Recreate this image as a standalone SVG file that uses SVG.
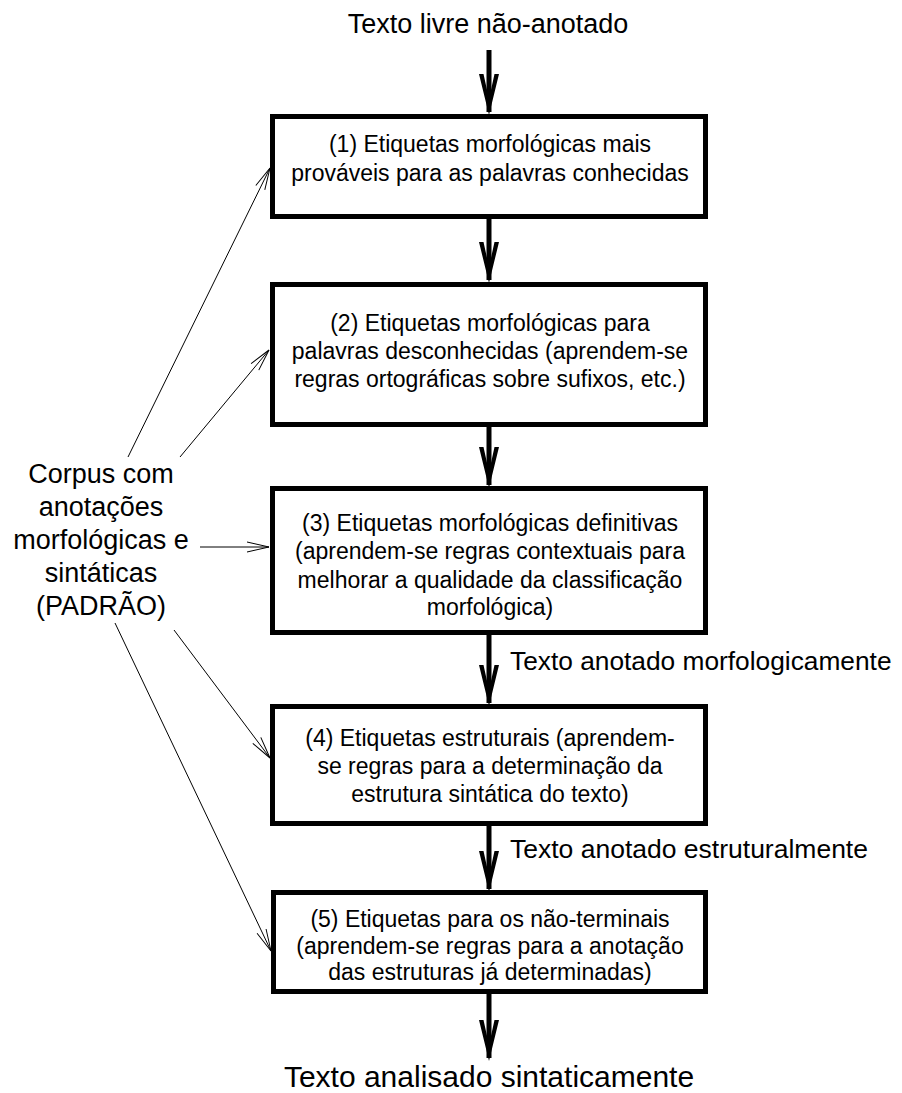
<svg xmlns="http://www.w3.org/2000/svg" xmlns:xlink="http://www.w3.org/1999/xlink" width="902" height="1093" viewBox="0 0 902 1093">
  <style>
    .box { fill: #fff; stroke: #000; stroke-width: 5; }
    .t { font-family: "Liberation Sans", Arial, sans-serif; fill: #000; }
    .bt { font-size: 23px; text-anchor: middle; }
    .big { font-size: 27px; }
    .mid { text-anchor: middle; }
    .shaft { stroke: #000; stroke-width: 5; fill: none; }
    .thin { stroke: #000; stroke-width: 1; fill: none; marker-end: url(#open); }
  </style>
  <defs>
    <!-- thick open V head, tip at origin pointing down -->
    <polygon id="head" points="-10,-41 -5.5,-41 0,-16 5.5,-41 10,-41 0,0" fill="#000"/>
    <marker id="open" markerUnits="userSpaceOnUse" orient="auto" refX="0" refY="0" markerWidth="30" markerHeight="14" viewBox="-24 -7 26 14" overflow="visible">
      <path d="M-22,-5 L0,0 L-22,5" fill="none" stroke="#000" stroke-width="1"/>
    </marker>
  </defs>

  <rect width="902" height="1093" fill="#fff"/>

  <!-- main flow -->
  <g id="connectors">
    <line class="shaft" x1="489" y1="50" x2="489" y2="112"/>
    <use xlink:href="#head" x="489" y="115"/>
    <line class="shaft" x1="489" y1="219" x2="489" y2="280"/>
    <use xlink:href="#head" x="489" y="283"/>
    <line class="shaft" x1="489" y1="426" x2="489" y2="485"/>
    <use xlink:href="#head" x="489" y="488"/>
    <line class="shaft" x1="489" y1="635" x2="489" y2="703"/>
    <use xlink:href="#head" x="489" y="706"/>
    <line class="shaft" x1="489" y1="826" x2="489" y2="889"/>
    <use xlink:href="#head" x="489" y="892"/>
    <line class="shaft" x1="489" y1="994" x2="489" y2="1058"/>
    <use xlink:href="#head" x="489" y="1061"/>

    <!-- corpus feeds each stage -->
    <line class="thin" x1="128" y1="457" x2="270" y2="168"/>
    <line class="thin" x1="180" y1="457" x2="269" y2="350"/>
    <line class="thin" x1="200" y1="547" x2="269" y2="547"/>
    <line class="thin" x1="174" y1="630" x2="270" y2="758"/>
    <line class="thin" x1="115" y1="623" x2="271" y2="951"/>
  </g>

  <g id="input">
    <text class="t big mid" x="488" y="33">Texto livre não-anotado</text>
  </g>

  <g id="stage1">
    <rect class="box" x="272.5" y="116.5" width="433" height="100"/>
    <text class="t bt" x="490" y="152">(1) Etiquetas morfológicas mais</text>
    <text class="t bt" x="490" y="181">prováveis para as palavras conhecidas</text>
  </g>

  <g id="stage2">
    <rect class="box" x="272.5" y="284.5" width="433" height="140"/>
    <text class="t bt" x="490" y="331">(2) Etiquetas morfológicas para</text>
    <text class="t bt" x="490" y="359">palavras desconhecidas (aprendem-se</text>
    <text class="t bt" x="490" y="387">regras ortográficas sobre sufixos, etc.)</text>
  </g>

  <g id="stage3">
    <rect class="box" x="272.5" y="488.5" width="433" height="144"/>
    <text class="t bt" x="490" y="531">(3) Etiquetas morfológicas definitivas</text>
    <text class="t bt" x="490" y="559">(aprendem-se regras contextuais para</text>
    <text class="t bt" x="490" y="588">melhorar a qualidade da classificação</text>
    <text class="t bt" x="490" y="615">morfológica)</text>
  </g>

  <g id="label-morf">
    <text class="t" font-size="26.3" x="510" y="670">Texto anotado morfologicamente</text>
  </g>

  <g id="stage4">
    <rect class="box" x="272.5" y="706.5" width="433" height="117"/>
    <text class="t bt" x="490" y="746">(4) Etiquetas estruturais (aprendem-</text>
    <text class="t bt" x="490" y="774">se regras para a determinação da</text>
    <text class="t bt" x="490" y="802">estrutura sintática do texto)</text>
  </g>

  <g id="label-estr">
    <text class="t" font-size="26.5" x="510" y="858">Texto anotado estruturalmente</text>
  </g>

  <g id="stage5">
    <rect class="box" x="273.5" y="892.5" width="432" height="99"/>
    <text class="t bt" x="490" y="927">(5) Etiquetas para os não-terminais</text>
    <text class="t bt" x="490" y="954">(aprendem-se regras para a anotação</text>
    <text class="t bt" x="490" y="980">das estruturas já determinadas)</text>
  </g>

  <g id="output">
    <text class="t mid" font-size="30" x="489" y="1087">Texto analisado sintaticamente</text>
  </g>

  <g id="corpus">
    <text class="t big mid" x="101" y="483">Corpus com</text>
    <text class="t big mid" x="101" y="516">anotações</text>
    <text class="t big mid" x="101" y="549">morfológicas e</text>
    <text class="t big mid" x="101" y="582">sintáticas</text>
    <text class="t big mid" x="101" y="615">(PADRÃO)</text>
  </g>
</svg>
